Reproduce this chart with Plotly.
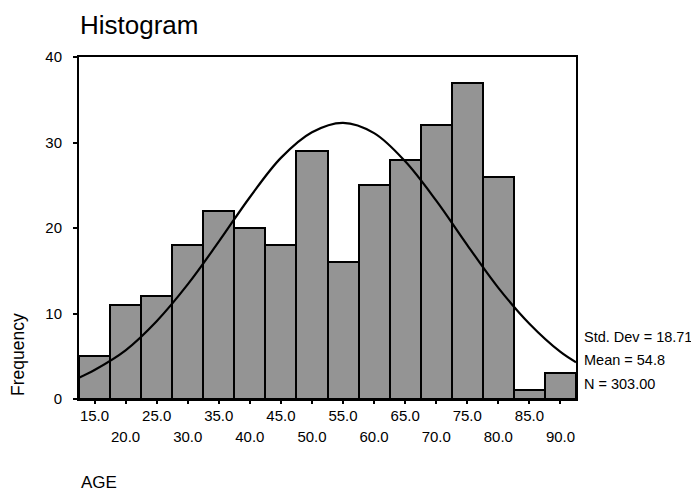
import plotly.graph_objects as go

# Data
bin_centers = [15, 20, 25, 30, 35, 40, 45, 50, 55, 60, 65, 70, 75, 80, 85, 90]
frequencies = [5, 11, 12, 18, 22, 20, 18, 29, 16, 25, 28, 32, 37, 26, 1, 3]

curve_x = [12.5, 15, 20, 25, 30, 35, 40, 45, 50, 55, 60, 65, 70, 75, 80, 85, 90, 92.5]
curve_y = [2.5, 3.4, 5.7, 9.1, 13.4, 18.4, 23.6, 28.2, 31.2, 32.3, 31.1, 27.8, 23.2, 18.0, 13.0, 8.8, 5.5, 4.3]

row1_ticks = [15, 25, 35, 45, 55, 65, 75, 85]
row2_ticks = [20, 30, 40, 50, 60, 70, 80, 90]
y_ticks = [0, 10, 20, 30, 40]

stats_lines = ["Std. Dev = 18.71", "Mean = 54.8", "N = 303.00"]

FONT = "Arial, Liberation Sans, sans-serif"

fig = go.Figure()
fig.add_trace(go.Bar(
    x=bin_centers, y=frequencies, width=5,
    marker=dict(color="#949494", line=dict(color="black", width=2)),
    showlegend=False,
))
fig.add_trace(go.Scatter(
    x=curve_x, y=curve_y, mode="lines",
    line=dict(color="black", width=2.2, shape="spline"),
    showlegend=False,
))
# invisible trace to activate second x axis for second row of labels
fig.add_trace(go.Scatter(x=[row2_ticks[0]], y=[0], xaxis="x2", mode="markers",
                         marker=dict(opacity=0), showlegend=False, hoverinfo="skip"))

all_ticks = sorted(row1_ticks + row2_ticks)
tick_text = [f"{v:.1f}" if v in row1_ticks else "" for v in all_ticks]

fig.update_layout(
    width=691, height=492,
    margin=dict(l=79, r=115, t=57, b=93),
    paper_bgcolor="white", plot_bgcolor="white",
    font=dict(family=FONT, color="black", size=15),
    bargap=0,
    xaxis=dict(
        range=[12.5, 92.5], tickvals=all_ticks, ticktext=tick_text,
        ticks="outside", ticklen=3, tickwidth=2, tickcolor="black",
        showline=True, linecolor="black", linewidth=2, mirror=True,
        showgrid=False, zeroline=False, tickfont=dict(size=15),
        ticklabelstandoff=-1,
    ),
    xaxis2=dict(
        range=[12.5, 92.5], overlaying="x", anchor="y", side="bottom",
        tickvals=row2_ticks, ticktext=[f"{v:.1f}" for v in row2_ticks],
        ticks="", showline=False, showgrid=False, zeroline=False,
        tickfont=dict(size=15), ticklabelstandoff=27,
    ),
    yaxis=dict(
        range=[0, 40], tickvals=y_ticks, ticktext=[str(v) for v in y_ticks],
        ticks="outside", ticklen=4, tickwidth=2, tickcolor="black",
        showline=True, linecolor="black", linewidth=2, mirror=True,
        showgrid=False, zeroline=False, tickfont=dict(size=15),
        ticklabelstandoff=8,
    ),
)

annotations = [
    dict(text="Histogram", xref="paper", yref="paper", x=-0.002, y=1.0936,
         xanchor="left", yanchor="middle", showarrow=False,
         font=dict(size=26, family=FONT)),
    dict(text="Frequency", xref="paper", yref="paper", x=-0.1227, y=0.1287,
         xanchor="center", yanchor="middle", textangle=-90, showarrow=False,
         font=dict(size=17.5, family=FONT)),
    dict(text="AGE", xref="paper", yref="paper", x=0.0, y=-0.2456,
         xanchor="left", yanchor="middle", showarrow=False,
         font=dict(size=17, family=FONT)),
]
stat_y = [0.181, 0.114, 0.044]
for txt, yy in zip(stats_lines, stat_y):
    annotations.append(dict(text=txt, xref="paper", yref="paper", x=1.012, y=yy,
                            xanchor="left", yanchor="middle", showarrow=False,
                            font=dict(size=14.5, family=FONT)))
fig.update_layout(annotations=annotations)

fig.write_html("out.html")
